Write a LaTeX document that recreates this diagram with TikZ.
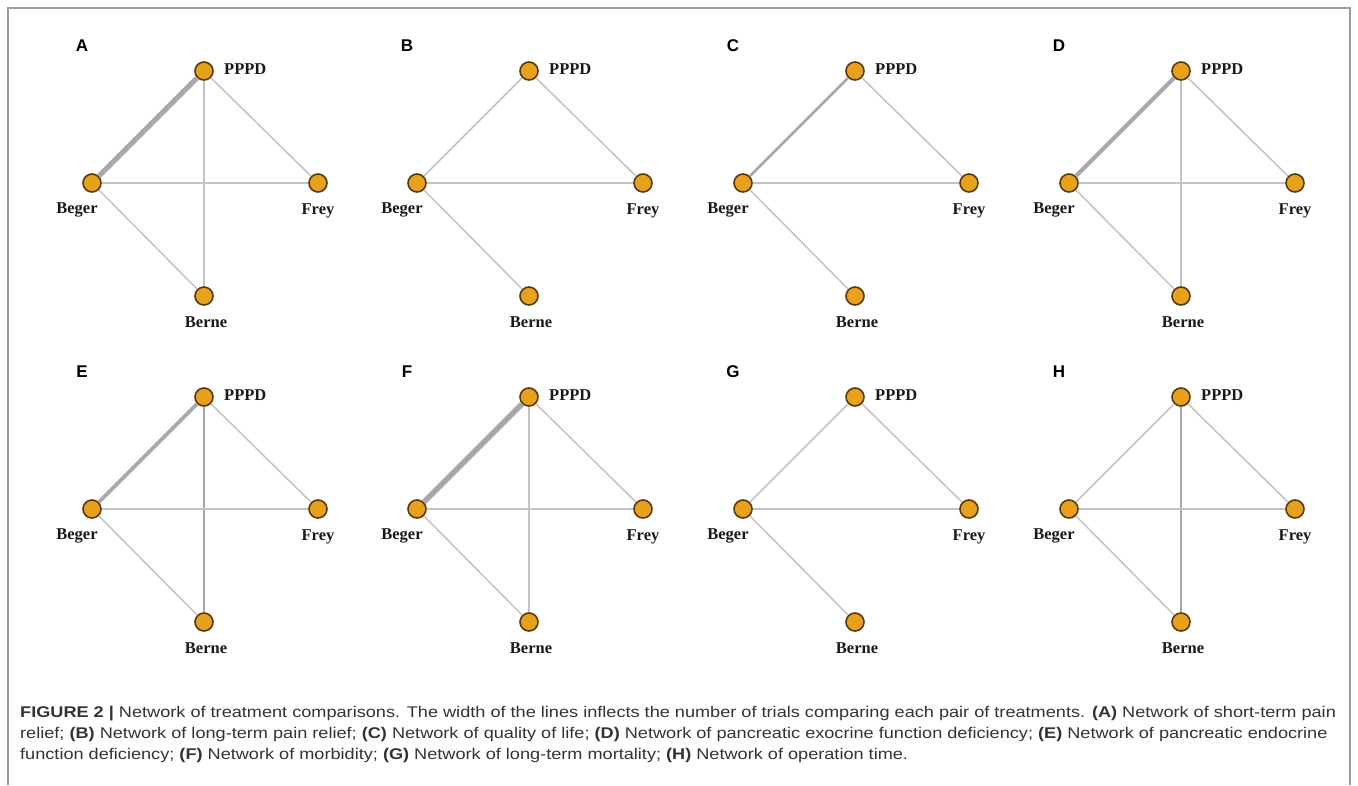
\documentclass[tikz,border=0pt]{standalone}
\usepackage{fontspec}
\setmainfont{Liberation Serif}
\setsansfont{Liberation Sans}
\newfontfamily\capfont{Liberation Sans}[FakeStretch=1.17]
\usetikzlibrary{positioning}
\definecolor{nodefill}{HTML}{E6A21C}
\definecolor{nodeline}{HTML}{5A380A}
\definecolor{edgegray}{HTML}{C2C2C8}
\definecolor{heavygray}{HTML}{A8A8AC}
\definecolor{framegray}{HTML}{9A9A9A}
\definecolor{captext}{HTML}{333333}

\begin{document}
\begin{tikzpicture}[x=1pt, y=-1pt, on grid,
  every node/.style={inner sep=0pt},
  trt/.style={circle, minimum size=18pt, fill=nodefill, draw=nodeline, line width=1.6pt},
  lbl/.style={font=\bfseries\fontsize{16.5}{18}\selectfont, text=black!90, anchor=base},
  panel/.style={font=\sffamily\bfseries\fontsize{17}{19}\selectfont, anchor=base},
  link/.style={draw=edgegray, line width=1.5pt},
  heavy/.style={draw=heavygray},
  captionline/.style={font=\capfont\fontsize{15.5}{18}\selectfont, text=captext, anchor=base west}]

\useasboundingbox (0,0) rectangle (1358,785);
\draw[framegray, line width=1.2pt] (8,785) -- (8,8) -- (1350,8) -- (1350,785);

% letter / x / y of PPPD / width PPPD-Beger / width PPPD-Berne (0 = none)
\foreach \l/\x/\y/\wg/\wn in {A/204/71/5/1.5, B/529/71/1.5/0, C/855/71/2.6/0,
    D/1181/71/4/1.5, E/204/397/3.6/2.6, F/529/397/5.5/1.5, G/855/397/1.5/0,
    H/1181/397/1.5/2.6}{
  \node (pppd\l) [trt] at (\x,\y) {};
  \node (beger\l) [trt, below left=112pt and 112pt of pppd\l] {};
  \node (frey\l) [trt, below right=112pt and 114pt of pppd\l] {};
  \node (berne\l) [trt, below=225pt of pppd\l] {};

  \draw[link, line width=\wg pt] \ifdim\wg pt>2pt [heavy] \fi (pppd\l) -- (beger\l);
  \ifdim\wn pt>0pt
    \draw[link, line width=\wn pt] \ifdim\wn pt>2pt [heavy] \fi (pppd\l) -- (berne\l);
  \fi
  \draw[link] (pppd\l) -- (frey\l);
  \draw[link] (beger\l) -- (frey\l);
  \draw[link] (beger\l) -- (berne\l);

  \node[lbl, anchor=base west] at ([shift={(20,3)}]pppd\l) {PPPD};
  \node[lbl] at ([shift={(-15,30.5)}]beger\l) {Beger};
  \node[lbl] at ([shift={(0,31)}]frey\l) {Frey};
  \node[lbl] at ([shift={(2,31)}]berne\l) {Berne};
  \node[panel] at ([shift={(-122,-20)}]pppd\l) {\l};
}

\node (cap1) [captionline] at (20,717) {\textbf{FIGURE 2 |} Network of treatment comparisons. The width of the lines inflects the number of trials comparing each pair of treatments. \textbf{(A)} Network of short-term pain};
\node (cap2) [captionline] at (20,738) {relief; \textbf{(B)} Network of long-term pain relief; \textbf{(C)} Network of quality of life; \textbf{(D)} Network of pancreatic exocrine function deficiency; \textbf{(E)} Network of pancreatic endocrine};
\node (cap3) [captionline] at (20,759) {function deficiency; \textbf{(F)} Network of morbidity; \textbf{(G)} Network of long-term mortality; \textbf{(H)} Network of operation time.};
\end{tikzpicture}
\end{document}
